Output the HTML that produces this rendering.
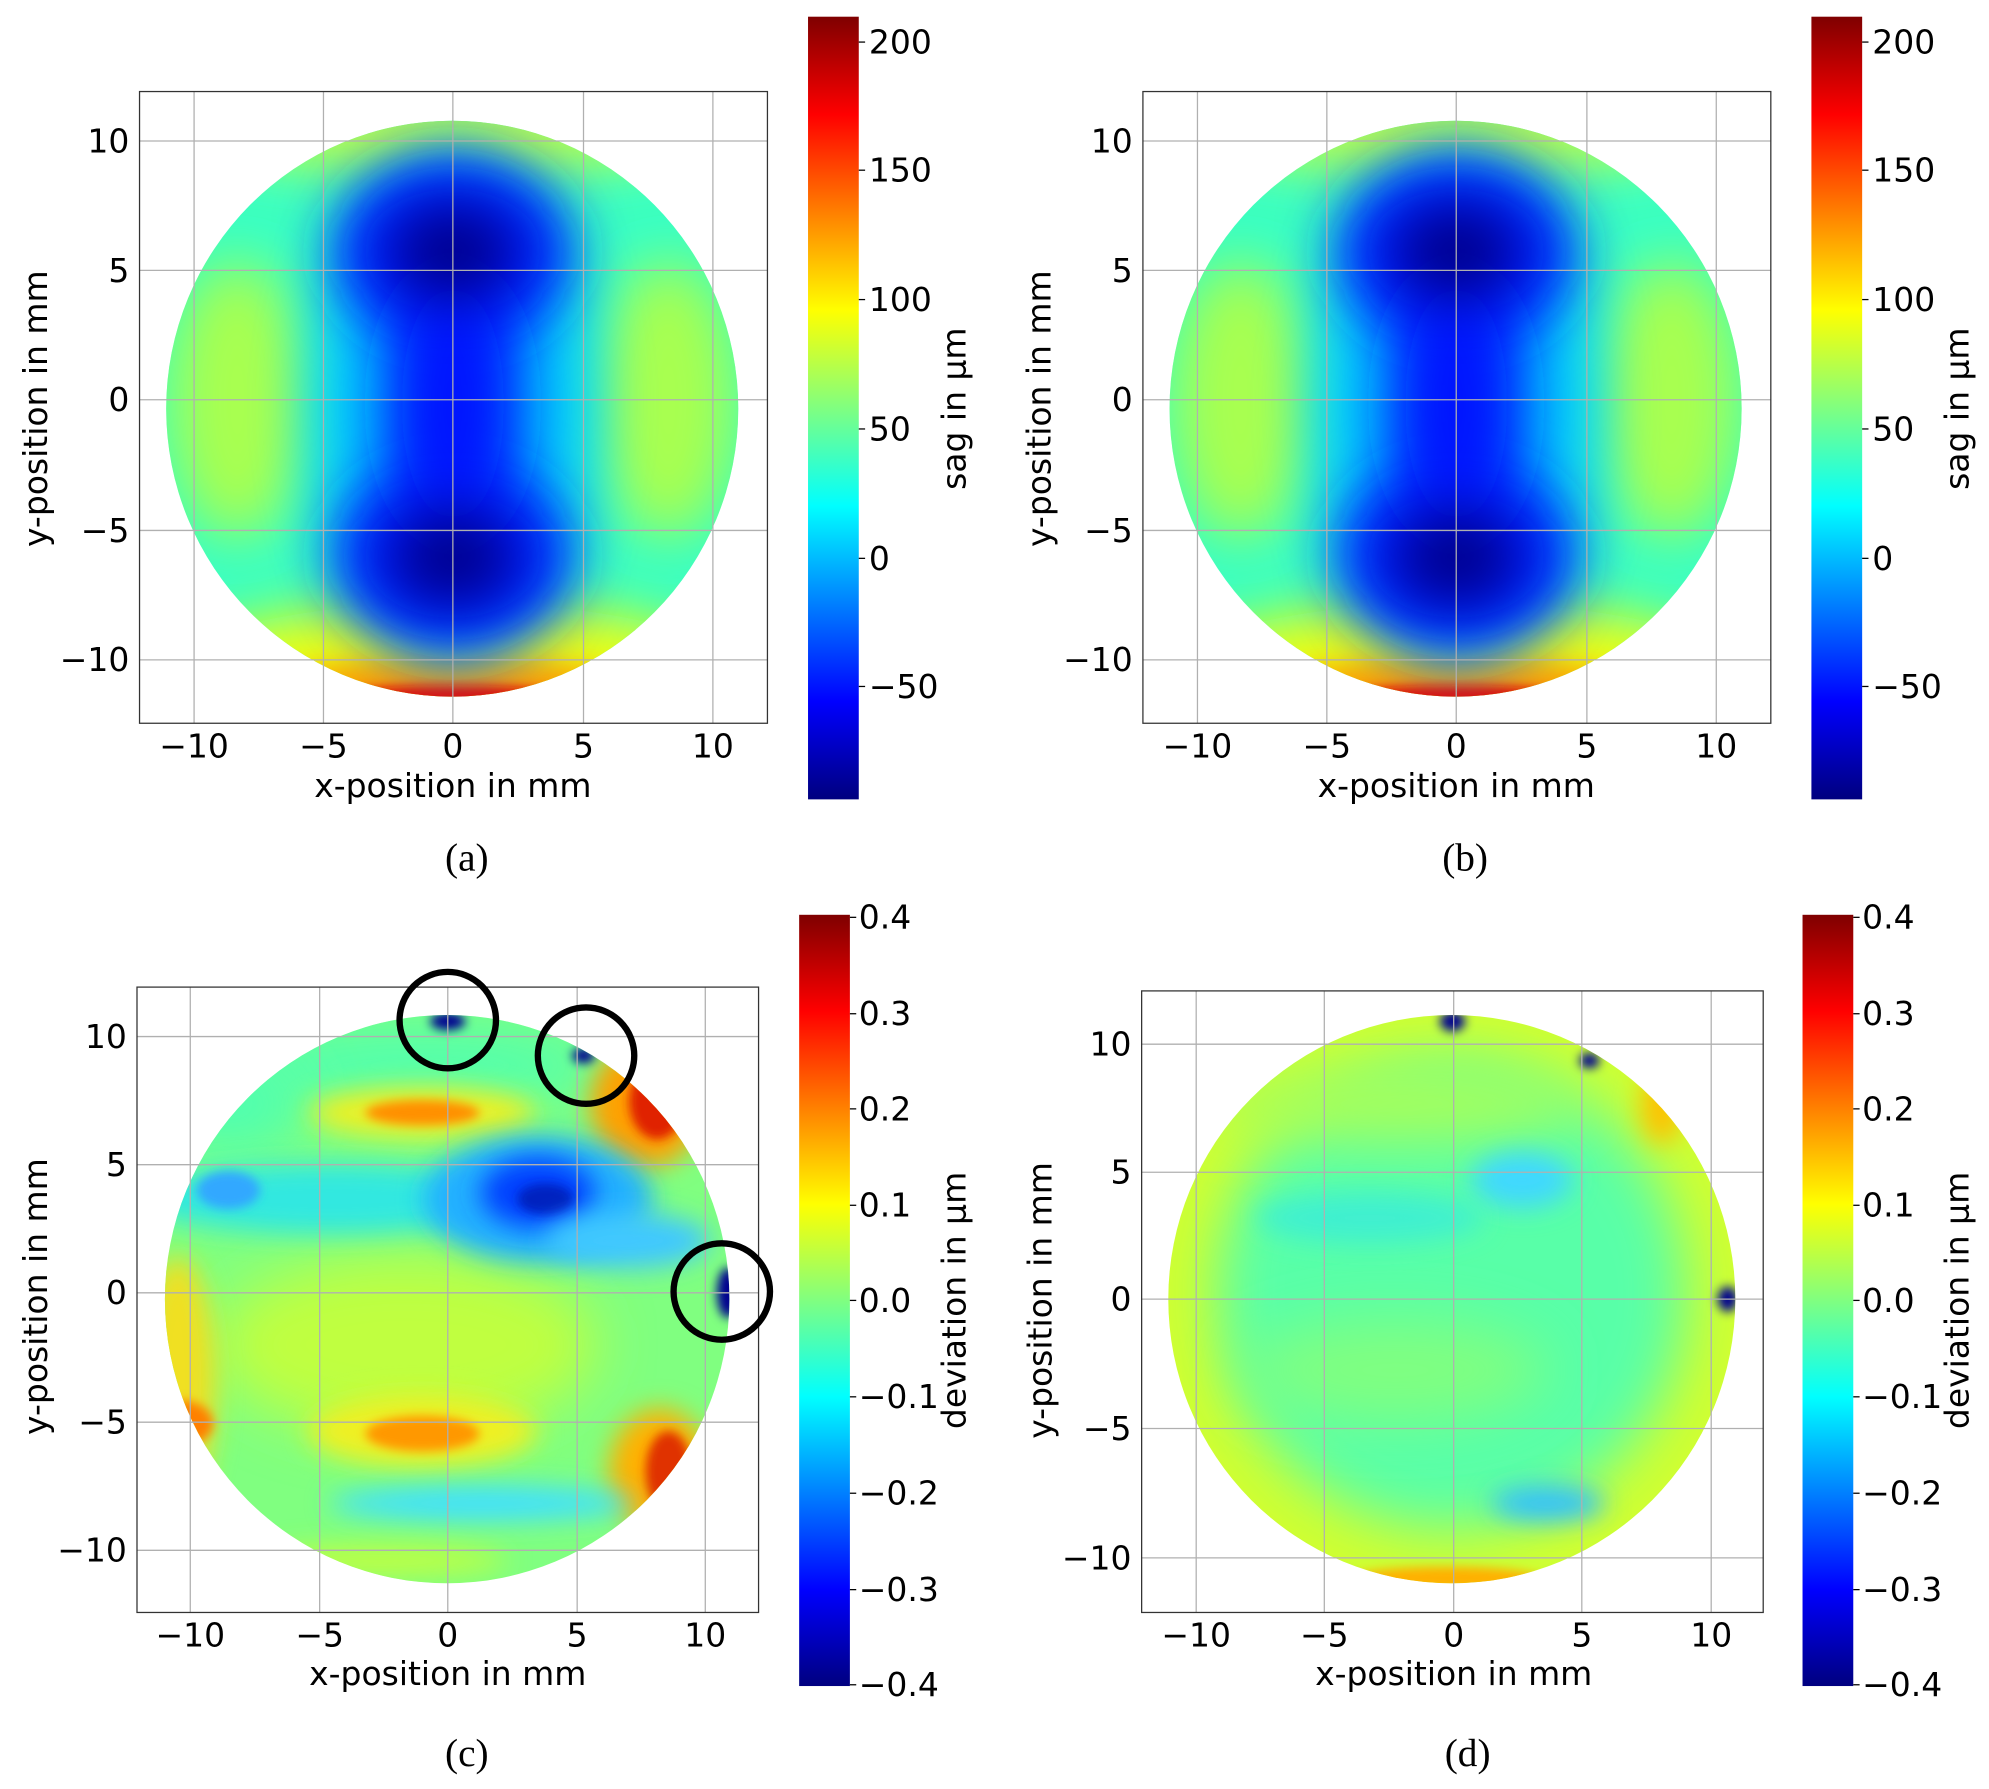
<!DOCTYPE html>
<html><head><meta charset="utf-8"><style>
html,body{margin:0;padding:0;background:#fff}
svg{display:block}
text{font-family:"DejaVu Sans","Liberation Sans",sans-serif;font-size:26px;fill:#000}
.cap{font-family:"Liberation Serif",serif;font-size:31px}
.g{stroke:#b0b0b0;stroke-width:1}
</style></head><body>
<svg width="1989" height="1789" viewBox="0 0 1568 1410" xmlns="http://www.w3.org/2000/svg">
<defs>
<linearGradient id="jet" x1="0" y1="1" x2="0" y2="0">
<stop offset="0" stop-color="#00007f"/><stop offset="0.125" stop-color="#0000ff"/>
<stop offset="0.375" stop-color="#00ffff"/><stop offset="0.5" stop-color="#80ff80"/>
<stop offset="0.625" stop-color="#ffff00"/><stop offset="0.875" stop-color="#ff0000"/>
<stop offset="1" stop-color="#7f0000"/></linearGradient>
<filter id="b1" filterUnits="userSpaceOnUse" x="-100" y="-100" width="1800" height="1600"><feGaussianBlur stdDeviation="22"/></filter>
<filter id="b2" filterUnits="userSpaceOnUse" x="-100" y="-100" width="1800" height="1600"><feGaussianBlur stdDeviation="10"/></filter>
<filter id="b3" filterUnits="userSpaceOnUse" x="-100" y="-100" width="1800" height="1600"><feGaussianBlur stdDeviation="4"/></filter>
<clipPath id="ca"><ellipse cx="356.5" cy="322" rx="225.5" ry="227"/></clipPath>
<clipPath id="cc"><ellipse cx="352.5" cy="1024" rx="222.5" ry="224"/></clipPath>
<clipPath id="cd"><ellipse cx="1144.5" cy="1024" rx="223.5" ry="224"/></clipPath>
<g id="mapA">
<g clip-path="url(#ca)">
<rect x="120" y="85" width="480" height="480" fill="#38ffc4"/>
<ellipse cx="356" cy="105" rx="200" ry="30" fill="#c8ff40" filter="url(#b1)"/>
<ellipse cx="356" cy="535" rx="230" ry="60" fill="#f0ff10" filter="url(#b1)"/>
<ellipse cx="356" cy="548" rx="160" ry="28" fill="#ffa000" filter="url(#b2)"/>
<ellipse cx="356" cy="554" rx="110" ry="14" fill="#e81000" filter="url(#b3)"/>
<ellipse cx="187" cy="315" rx="55" ry="110" fill="#a8ff50" filter="url(#b1)"/>
<ellipse cx="527" cy="315" rx="55" ry="110" fill="#a8ff50" filter="url(#b1)"/>
<ellipse cx="357" cy="320" rx="110" ry="200" fill="#00c8ff" filter="url(#b1)"/>
<ellipse cx="357" cy="198" rx="95" ry="75" fill="#0020ff" filter="url(#b1)"/>
<ellipse cx="357" cy="438" rx="95" ry="75" fill="#0020ff" filter="url(#b1)"/>
<ellipse cx="357" cy="318" rx="55" ry="110" fill="#0018ff" filter="url(#b1)"/>
<ellipse cx="357" cy="198" rx="50" ry="38" fill="#000090" filter="url(#b1)"/>
<ellipse cx="357" cy="440" rx="50" ry="38" fill="#000090" filter="url(#b1)"/>
</g></g>
<g id="axA">
<g class="g">
<line x1="153" y1="72" x2="153" y2="570"/><line x1="255" y1="72" x2="255" y2="570"/><line x1="357" y1="72" x2="357" y2="570"/><line x1="460" y1="72" x2="460" y2="570"/><line x1="562" y1="72" x2="562" y2="570"/>
<line x1="110" y1="111" x2="605" y2="111"/><line x1="110" y1="213" x2="605" y2="213"/><line x1="110" y1="315" x2="605" y2="315"/><line x1="110" y1="418" x2="605" y2="418"/><line x1="110" y1="520" x2="605" y2="520"/>
</g>
<rect x="110" y="72" width="495" height="498" fill="none" stroke="#333" stroke-width="1"/>
<g text-anchor="middle">
<text x="153" y="597">−10</text><text x="255" y="597">−5</text><text x="357" y="597">0</text><text x="460" y="597">5</text><text x="562" y="597">10</text>
<text x="357" y="628">x-position in mm</text>
</g>
<g text-anchor="end">
<text x="102" y="120">10</text><text x="102" y="222">5</text><text x="102" y="324">0</text><text x="102" y="427">−5</text><text x="102" y="529">−10</text>
</g>
<text transform="translate(37,322) rotate(-90)" text-anchor="middle">y-position in mm</text>
<rect x="637" y="13" width="40" height="617" fill="url(#jet)"/>
<g stroke="#000"><line x1="677" y1="33" x2="682" y2="33"/><line x1="677" y1="134" x2="682" y2="134"/><line x1="677" y1="236" x2="682" y2="236"/><line x1="677" y1="338" x2="682" y2="338"/><line x1="677" y1="440" x2="682" y2="440"/><line x1="677" y1="541" x2="682" y2="541"/></g>
<text x="685" y="42">200</text><text x="685" y="143">150</text><text x="685" y="245">100</text><text x="685" y="347">50</text><text x="685" y="449">0</text><text x="685" y="550">−50</text>
<text transform="translate(761,322) rotate(-90)" text-anchor="middle">sag in µm</text>
</g>
</defs>

<use href="#mapA"/><use href="#axA"/>
<text class="cap" x="368" y="686" text-anchor="middle">(a)</text>
<g transform="translate(791,0)"><use href="#mapA"/><use href="#axA"/></g>
<text class="cap" x="1155" y="686" text-anchor="middle">(b)</text>

<!-- panel c -->
<g clip-path="url(#cc)">
<rect x="120" y="790" width="470" height="470" fill="#80ff80"/>
<ellipse cx="320" cy="1060" rx="150" ry="70" fill="#c0ff40" filter="url(#b1)"/>
<ellipse cx="330" cy="840" rx="150" ry="30" fill="#50ffb0" filter="url(#b1)"/>
<ellipse cx="180" cy="870" rx="60" ry="40" fill="#50ffb0" filter="url(#b1)"/>
<ellipse cx="333" cy="877" rx="90" ry="20" fill="#f0f020" filter="url(#b2)"/>
<ellipse cx="333" cy="877" rx="45" ry="10" fill="#ff9000" filter="url(#b3)"/>
<ellipse cx="510" cy="870" rx="45" ry="50" fill="#ffa000" filter="url(#b2)"/>
<ellipse cx="518" cy="868" rx="22" ry="30" fill="#e02000" filter="url(#b3)"/>
<ellipse cx="260" cy="945" rx="150" ry="28" fill="#30e8e0" filter="url(#b2)"/>
<ellipse cx="180" cy="938" rx="25" ry="15" fill="#30a8ff" filter="url(#b3)"/>
<ellipse cx="424" cy="945" rx="90" ry="50" fill="#20b0ff" filter="url(#b2)"/>
<ellipse cx="424" cy="940" rx="45" ry="28" fill="#0040ff" filter="url(#b2)"/>
<ellipse cx="430" cy="945" rx="22" ry="12" fill="#0020c0" filter="url(#b3)"/>
<ellipse cx="495" cy="978" rx="65" ry="22" fill="#40c8ff" filter="url(#b2)"/>
<ellipse cx="333" cy="1128" rx="90" ry="28" fill="#f0f020" filter="url(#b2)"/>
<ellipse cx="333" cy="1130" rx="45" ry="14" fill="#ff9800" filter="url(#b3)"/>
<ellipse cx="140" cy="1090" rx="30" ry="100" fill="#f0e020" filter="url(#b2)"/>
<ellipse cx="143" cy="1122" rx="25" ry="18" fill="#ff8000" filter="url(#b3)"/>
<ellipse cx="520" cy="1160" rx="40" ry="50" fill="#ffb000" filter="url(#b2)"/>
<ellipse cx="527" cy="1160" rx="18" ry="32" fill="#e03000" filter="url(#b3)"/>
<ellipse cx="380" cy="1185" rx="120" ry="14" fill="#40e0ff" filter="url(#b2)"/>
<ellipse cx="300" cy="1230" rx="100" ry="12" fill="#c0ff40" filter="url(#b2)"/>
<ellipse cx="353" cy="805" rx="14" ry="7" fill="#000090" filter="url(#b3)"/>
<ellipse cx="460" cy="832" rx="9" ry="6" fill="#000090" filter="url(#b3)"/>
<ellipse cx="574" cy="1019" rx="9" ry="20" fill="#000090" filter="url(#b3)"/>
</g>
<g class="g">
<line x1="150" y1="778" x2="150" y2="1271"/><line x1="252" y1="778" x2="252" y2="1271"/><line x1="353" y1="778" x2="353" y2="1271"/><line x1="455" y1="778" x2="455" y2="1271"/><line x1="556" y1="778" x2="556" y2="1271"/>
<line x1="108" y1="817" x2="598" y2="817"/><line x1="108" y1="918" x2="598" y2="918"/><line x1="108" y1="1019" x2="598" y2="1019"/><line x1="108" y1="1121" x2="598" y2="1121"/><line x1="108" y1="1222" x2="598" y2="1222"/>
</g>
<rect x="108" y="778" width="490" height="493" fill="none" stroke="#333" stroke-width="1"/>
<g fill="none" stroke="#000" stroke-width="5">
<ellipse cx="353" cy="804" rx="38" ry="38"/><ellipse cx="462" cy="832" rx="38" ry="38"/><ellipse cx="569" cy="1018" rx="38" ry="38"/>
</g>
<g text-anchor="middle">
<text x="150" y="1298">−10</text><text x="252" y="1298">−5</text><text x="353" y="1298">0</text><text x="455" y="1298">5</text><text x="556" y="1298">10</text>
<text x="353" y="1328">x-position in mm</text>
<text class="cap" x="368" y="1392">(c)</text>
</g>
<g text-anchor="end">
<text x="100" y="826">10</text><text x="100" y="927">5</text><text x="100" y="1028">0</text><text x="100" y="1130">−5</text><text x="100" y="1231">−10</text>
</g>
<text transform="translate(37,1022) rotate(-90)" text-anchor="middle">y-position in mm</text>
<rect x="630" y="721" width="40" height="608" fill="url(#jet)"/>
<g stroke="#000"><line x1="670" y1="723" x2="675" y2="723"/><line x1="670" y1="799" x2="675" y2="799"/><line x1="670" y1="874" x2="675" y2="874"/><line x1="670" y1="950" x2="675" y2="950"/><line x1="670" y1="1025" x2="675" y2="1025"/><line x1="670" y1="1101" x2="675" y2="1101"/><line x1="670" y1="1177" x2="675" y2="1177"/><line x1="670" y1="1253" x2="675" y2="1253"/><line x1="670" y1="1328" x2="675" y2="1328"/></g>
<text x="677" y="732">0.4</text><text x="677" y="808">0.3</text><text x="677" y="883">0.2</text><text x="677" y="959">0.1</text><text x="677" y="1034">0.0</text><text x="677" y="1110">−0.1</text><text x="677" y="1186">−0.2</text><text x="677" y="1262">−0.3</text><text x="677" y="1337">−0.4</text>
<text transform="translate(761,1025) rotate(-90)" text-anchor="middle">deviation in µm</text>

<!-- panel d -->
<g clip-path="url(#cd)">
<rect x="910" y="790" width="470" height="470" fill="#d0ff30"/>
<ellipse cx="1144" cy="1020" rx="185" ry="185" fill="#58ffa8" filter="url(#b1)"/>
<ellipse cx="1100" cy="870" rx="150" ry="30" fill="#a8ff58" filter="url(#b1)"/>
<ellipse cx="1100" cy="1080" rx="120" ry="40" fill="#80ff80" filter="url(#b1)"/>
<ellipse cx="1200" cy="930" rx="40" ry="22" fill="#40d8ff" filter="url(#b2)"/>
<ellipse cx="1080" cy="960" rx="90" ry="20" fill="#40f0d0" filter="url(#b2)"/>
<ellipse cx="1220" cy="1185" rx="45" ry="14" fill="#30c0ff" filter="url(#b2)"/>
<ellipse cx="1140" cy="1244" rx="75" ry="9" fill="#ffb000" filter="url(#b3)"/>
<ellipse cx="1310" cy="872" rx="16" ry="30" fill="#ffc000" filter="url(#b2)"/>
<ellipse cx="1145" cy="805" rx="10" ry="8" fill="#000090" filter="url(#b3)"/>
<ellipse cx="1253" cy="836" rx="8" ry="6" fill="#000090" filter="url(#b3)"/>
<ellipse cx="1362" cy="1024" rx="8" ry="10" fill="#000090" filter="url(#b3)"/>
</g>
<g class="g">
<line x1="943" y1="781" x2="943" y2="1271"/><line x1="1044" y1="781" x2="1044" y2="1271"/><line x1="1146" y1="781" x2="1146" y2="1271"/><line x1="1247" y1="781" x2="1247" y2="1271"/><line x1="1349" y1="781" x2="1349" y2="1271"/>
<line x1="900" y1="823" x2="1390" y2="823"/><line x1="900" y1="924" x2="1390" y2="924"/><line x1="900" y1="1024" x2="1390" y2="1024"/><line x1="900" y1="1126" x2="1390" y2="1126"/><line x1="900" y1="1228" x2="1390" y2="1228"/>
</g>
<rect x="900" y="781" width="490" height="490" fill="none" stroke="#333" stroke-width="1"/>
<g text-anchor="middle">
<text x="943" y="1298">−10</text><text x="1044" y="1298">−5</text><text x="1146" y="1298">0</text><text x="1247" y="1298">5</text><text x="1349" y="1298">10</text>
<text x="1146" y="1328">x-position in mm</text>
<text class="cap" x="1157" y="1392">(d)</text>
</g>
<g text-anchor="end">
<text x="892" y="832">10</text><text x="892" y="933">5</text><text x="892" y="1033">0</text><text x="892" y="1135">−5</text><text x="892" y="1237">−10</text>
</g>
<text transform="translate(829,1025) rotate(-90)" text-anchor="middle">y-position in mm</text>
<rect x="1421" y="721" width="40" height="608" fill="url(#jet)"/>
<g stroke="#000"><line x1="1461" y1="723" x2="1466" y2="723"/><line x1="1461" y1="799" x2="1466" y2="799"/><line x1="1461" y1="874" x2="1466" y2="874"/><line x1="1461" y1="950" x2="1466" y2="950"/><line x1="1461" y1="1025" x2="1466" y2="1025"/><line x1="1461" y1="1101" x2="1466" y2="1101"/><line x1="1461" y1="1177" x2="1466" y2="1177"/><line x1="1461" y1="1253" x2="1466" y2="1253"/><line x1="1461" y1="1328" x2="1466" y2="1328"/></g>
<text x="1468" y="732">0.4</text><text x="1468" y="808">0.3</text><text x="1468" y="883">0.2</text><text x="1468" y="959">0.1</text><text x="1468" y="1034">0.0</text><text x="1468" y="1110">−0.1</text><text x="1468" y="1186">−0.2</text><text x="1468" y="1262">−0.3</text><text x="1468" y="1337">−0.4</text>
<text transform="translate(1552,1025) rotate(-90)" text-anchor="middle">deviation in µm</text>
</svg>
</body></html>
